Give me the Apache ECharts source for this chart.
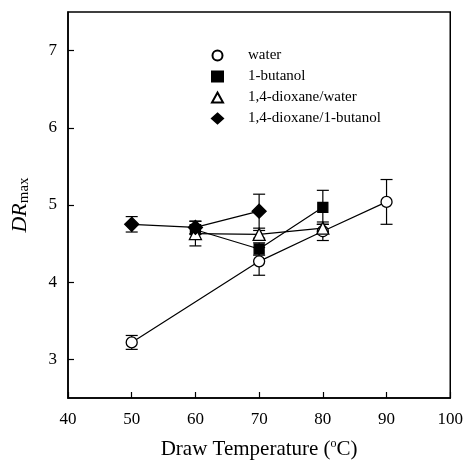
<!DOCTYPE html>
<html>
<head>
<meta charset="utf-8">
<script src="https://cdn.jsdelivr.net/npm/echarts@6/dist/echarts.min.js"></script>
<style>
  html, body { margin: 0; padding: 0; background: #fff; }
  #chart { width: 466px; height: 467px; }
</style>
</head>
<body>
<div id="chart"></div>
<script>
// 拉伸温度
const temps = [50, 60, 70, 80, 90]
const xTicks = [40, 50, 60, 70, 80, 90, 100]
const yTicks = [3, 4, 5, 6, 7]

const seriesNames = ['water', '1-butanol', '1,4-dioxane/water', '1,4-dioxane/1-butanol']
const water = [3.22, null, 4.27, 4.66, 5.04]
const waterErr = [0.09, null, 0.18, 0.12, 0.29]
const butanol = [null, 4.68, 4.43, 4.97, null]
const butanolErr = [null, 0.06, 0.08, 0.22, null]
const dioxWater = [null, 4.63, 4.62, 4.70, null]
const dioxWaterErr = [null, 0.16, 0.05, 0.05, null]
const dioxButanol = [4.75, 4.71, 4.92, null, null]
const dioxButanolErr = [0.10, 0.08, 0.22, null, null]

const font = 'Liberation Serif, DejaVu Serif, serif'

function points(vals) {
  return temps.map((t, i) => vals[i] == null ? null : [t, vals[i]]).filter(Boolean)
}
function errPoints(vals, errs) {
  return temps.map((t, i) => vals[i] == null ? null : [t, vals[i] - errs[i], vals[i] + errs[i]]).filter(Boolean)
}

function errorBar(params, api) {
  const lo = api.coord([api.value(0), api.value(1)])
  const hi = api.coord([api.value(0), api.value(2)])
  const w = 6
  const style = { stroke: '#000', lineWidth: 1.2, fill: null }
  return {
    type: 'group',
    children: [
      { type: 'line', shape: { x1: lo[0], y1: lo[1], x2: hi[0], y2: hi[1] }, style },
      { type: 'line', shape: { x1: lo[0] - w, y1: lo[1], x2: lo[0] + w, y2: lo[1] }, style },
      { type: 'line', shape: { x1: hi[0] - w, y1: hi[1], x2: hi[0] + w, y2: hi[1] }, style }
    ]
  }
}

const markers = [
  { symbol: 'circle', size: 11, fill: '#fff' },
  { symbol: 'rect', size: 10, fill: '#000' },
  { symbol: 'triangle', size: 12, fill: '#fff' },
  { symbol: 'diamond', size: 14, fill: '#000' }
]
const values = [water, butanol, dioxWater, dioxButanol]
const errors = [waterErr, butanolErr, dioxWaterErr, dioxButanolErr]

const series = []
values.forEach((vals, k) => {
  series.push({
    type: 'custom',
    renderItem: errorBar,
    data: errPoints(vals, errors[k]),
    z: 1,
    silent: true
  })
})
values.forEach((vals, k) => {
  series.push({
    name: seriesNames[k],
    type: 'line',
    data: points(vals),
    symbol: markers[k].symbol,
    symbolSize: markers[k].size,
    showAllSymbol: true,
    lineStyle: { color: '#000', width: 1.2 },
    itemStyle: { color: markers[k].fill, borderColor: '#000', borderWidth: 1.3, opacity: 1 },
    z: 3 + k
  })
})

const myChart = echarts.init(document.getElementById('chart'), null, { renderer: 'canvas' })
const option = {
  animation: false,
  backgroundColor: '#fff',
  textStyle: { fontFamily: font },
  grid: {
    left: 68,
    right: 13,
    top: 12,
    bottom: 69,
    show: true,
    borderColor: '#000',
    borderWidth: 1.5
  },
  legend: {
    orient: 'vertical',
    left: 206,
    top: 43,
    itemWidth: 11,
    itemHeight: 10,
    itemGap: 6,
    textStyle: { fontFamily: font, fontSize: 15, color: '#000', padding: [0, 0, 0, 20], lineHeight: 15 },
    data: seriesNames.map((n, k) => ({ name: n, icon: markers[k].symbol }))
  },
  xAxis: {
    type: 'value',
    min: 40,
    max: 100,
    interval: 10,
    name: 'Draw Temperature ({sup|o}C)',
    nameLocation: 'middle',
    nameGap: 40,
    nameTextStyle: {
      fontFamily: font,
      fontSize: 21,
      color: '#000',
      rich: {
        sup: { fontFamily: font, fontSize: 12, color: '#000', padding: [0, 0, 10, 0] }
      }
    },
    axisLine: { lineStyle: { color: '#000', width: 1.5 } },
    axisTick: { inside: true, length: 6, lineStyle: { color: '#000', width: 1.2 } },
    axisLabel: { fontFamily: font, fontSize: 17, color: '#000', margin: 13 },
    splitLine: { show: false }
  },
  yAxis: {
    type: 'value',
    min: 2.5,
    max: 7.5,
    name: '{i|DR}{s|max}',
    nameLocation: 'middle',
    nameGap: 36,
    nameTextStyle: {
      fontFamily: font,
      color: '#000',
      rich: {
        i: { fontFamily: font, fontSize: 22, fontStyle: 'italic', color: '#000' },
        s: { fontFamily: font, fontSize: 15, color: '#000', padding: [8, 0, 0, 0] }
      }
    },
    axisLine: { lineStyle: { color: '#000', width: 1.5 } },
    axisTick: { inside: true, length: 6, customValues: yTicks, lineStyle: { color: '#000', width: 1.2 } },
    axisLabel: { fontFamily: font, fontSize: 17, color: '#000', margin: 11, customValues: yTicks },
    splitLine: { show: false }
  },
  series: series
}
myChart.setOption(option)
</script>
</body>
</html>
